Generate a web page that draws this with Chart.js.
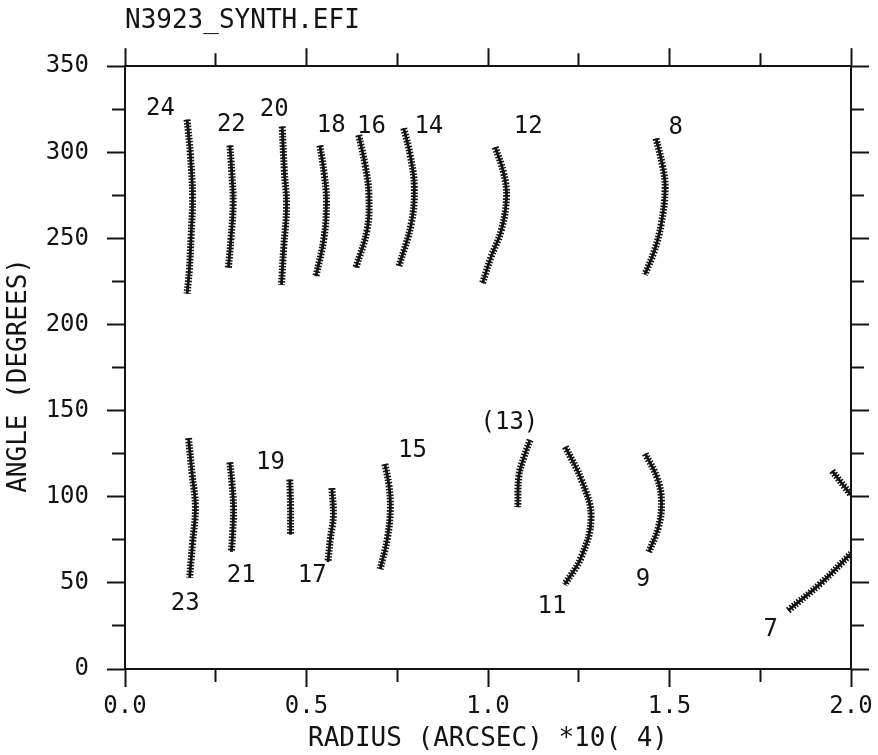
<!DOCTYPE html>
<html>
<head>
<meta charset="utf-8">
<script src="https://cdn.jsdelivr.net/npm/chart.js@4.4.0/dist/chart.umd.min.js"></script>
<style>
  html, body { margin: 0; padding: 0; background: #fff; }
  #wrap { width: 878px; height: 755px; position: relative; }
</style>
</head>
<body>
<div id="wrap"><canvas id="chart"></canvas></div>
<script>
// Each curve: [radius (arcsec x10^4), angle (deg)]
const c24 = [[0.171, 319], [0.180, 299], [0.186, 274], [0.182, 251], [0.177, 231], [0.171, 218]];
const c22 = [[0.289, 304], [0.294, 289], [0.298, 270], [0.292, 250], [0.285, 233]];
const c20 = [[0.433, 315], [0.439, 289], [0.445, 269], [0.437, 244], [0.431, 223]];
const c18 = [[0.537, 304], [0.549, 287], [0.555, 271], [0.548, 250], [0.526, 228]];
const c16 = [[0.644, 310], [0.662, 292], [0.672, 275], [0.667, 255], [0.636, 233]];
const c14 = [[0.768, 314], [0.786, 298], [0.797, 280], [0.789, 259], [0.755, 234]];
const c12 = [[1.020, 303], [1.043, 288], [1.051, 274], [1.037, 255], [1.008, 239], [0.985, 224]];
const c8  = [[1.463, 308], [1.481, 292], [1.488, 279], [1.477, 258], [1.457, 242], [1.432, 229]];
const c23 = [[0.175, 134], [0.185, 113], [0.194, 94], [0.186, 73], [0.178, 53]];
const c21 = [[0.289, 120], [0.295, 107], [0.299, 94], [0.297, 80], [0.293, 68]];
const c19 = [[0.454, 110], [0.456, 94], [0.456, 78]];
const c17 = [[0.570, 105], [0.574, 89], [0.566, 76], [0.559, 62]];
const c15 = [[0.716, 119], [0.727, 107], [0.731, 93], [0.723, 76], [0.703, 58]];
const c13 = [[1.116, 133], [1.099, 123], [1.085, 112], [1.082, 94]];
const c11 = [[1.213, 129], [1.259, 109], [1.284, 88], [1.257, 65], [1.211, 49]];
const c9  = [[1.433, 125], [1.466, 111], [1.478, 97], [1.469, 82], [1.443, 68]];
const c7  = [[1.827, 34], [1.918, 50], [2.000, 67]];
const c7b = [[1.948, 115], [2.000, 101]];

const curves = [c24, c22, c20, c18, c16, c14, c12, c8, c23, c21, c19, c17, c15, c13, c11, c9, c7, c7b];

// curve numbers written next to the tracks
const labelText = ['24', '22', '20', '18', '16', '14', '12', '8', '23', '21', '19', '17', '15', '(13)', '11', '9', '7'];
const labelR = [0.098, 0.293, 0.411, 0.568, 0.679, 0.837, 1.111, 1.517, 0.166, 0.320, 0.401, 0.516, 0.792, 1.059, 1.176, 1.427, 1.779];
const labelA = [325, 316, 324.5, 315.5, 315, 315, 315, 314, 38, 54, 120, 54, 127, 143, 36, 52, 23];

const xMin = 0, xMax = 2.0, xStep = 0.25;
const yMin = 0, yMax = 350, yStep = 25;

const INK = '#141414';
const FONT = '"DejaVu Sans Mono", "Liberation Mono", monospace';

// minor ticks are shorter; use a dash to trim them
function isMinorX(ctx) {
  const v = ctx.tick ? ctx.tick.value : 0;
  return Math.abs(v * 2 - Math.round(v * 2)) > 1e-6;
}
function isMinorY(ctx) {
  const v = ctx.tick ? ctx.tick.value : 0;
  return Math.round(v) % 50 !== 0;
}
const DASH_FROM_AXIS = [12, 100];      // bottom / right: drawn from axis outward
const DASH_TO_AXIS = [0, 5, 12, 100];   // top / left: drawn from outside toward axis

const curveLabels = {
  id: 'curveLabels',
  afterDatasetsDraw(chart) {
    const { ctx, scales: { x, y } } = chart;
    ctx.save();
    ctx.font = '24px ' + FONT;
    ctx.fillStyle = INK;
    ctx.textAlign = 'center';
    ctx.textBaseline = 'middle';
    labelText.forEach((t, i) => {
      ctx.fillText(t, x.getPixelForValue(labelR[i]), y.getPixelForValue(labelA[i]));
    });
    ctx.restore();
  }
};

// each track is drawn twice: a core line plus a thick dashed stroke for the "+" marks
const datasets = [];
curves.forEach(c => {
  const pts = c.map(p => ({ x: p[0], y: p[1] }));
  datasets.push({
    data: pts, xAxisID: 'x', yAxisID: 'y',
    borderColor: INK, borderWidth: 2.8, pointRadius: 0, tension: 0.4, fill: false
  });
  datasets.push({
    data: pts, xAxisID: 'x', yAxisID: 'y',
    borderColor: INK, borderWidth: 7, borderDash: [1.6, 1.5], pointRadius: 0, tension: 0.4, fill: false
  });
});

const tickFont = { family: FONT, size: 24, lineHeight: 1.2 };
const titleFont = { family: FONT, size: 26, lineHeight: 1.2 };

new Chart(document.getElementById('chart'), {
  type: 'line',
  data: { datasets: datasets },
  options: {
    responsive: true,
    maintainAspectRatio: false,
    animation: false,
    layout: { padding: { left: 0, right: 9, top: 0, bottom: 0 } },
    plugins: {
      legend: { display: false },
      tooltip: { enabled: false },
      title: {
        display: true,
        text: 'N3923_SYNTH.EFI',
        align: 'start',
        fullSize: false,
        color: INK,
        font: { family: FONT, size: 26, weight: 'normal', lineHeight: 1.2 },
        padding: { top: 6, bottom: 11 }
      }
    },
    scales: {
      x: {
        type: 'linear', position: 'bottom', min: xMin, max: xMax,
        afterFit: s => { s.height = 86; },
        border: { display: true, color: INK, width: 2 },
        grid: {
          drawOnChartArea: false, tickLength: 18, tickWidth: 2, tickColor: INK,
          tickBorderDash: ctx => isMinorX(ctx) ? DASH_FROM_AXIS : []
        },
        ticks: {
          stepSize: xStep, autoSkip: false, maxRotation: 0, padding: 5,
          color: INK, font: tickFont,
          callback: v => (Math.abs(v * 2 - Math.round(v * 2)) < 1e-6 ? v.toFixed(1) : '')
        },
        title: {
          display: true, text: 'RADIUS (ARCSEC) *10( 4)', color: INK,
          font: titleFont,
          padding: { top: 0, bottom: 0 }
        }
      },
      x2: {
        type: 'linear', position: 'top', min: xMin, max: xMax,
        afterFit: s => { s.height = 18; },
        border: { display: true, color: INK, width: 2 },
        grid: {
          drawOnChartArea: false, tickLength: 18, tickWidth: 2, tickColor: INK,
          tickBorderDash: ctx => isMinorX(ctx) ? DASH_TO_AXIS : []
        },
        ticks: { display: false, stepSize: xStep, autoSkip: false }
      },
      y: {
        type: 'linear', position: 'left', min: yMin, max: yMax,
        afterFit: s => { s.width = 125; },
        border: { display: true, color: INK, width: 2 },
        grid: {
          drawOnChartArea: false, tickLength: 18, tickWidth: 2, tickColor: INK,
          tickBorderDash: ctx => isMinorY(ctx) ? DASH_TO_AXIS : []
        },
        ticks: {
          stepSize: yStep, autoSkip: false, padding: 18,
          color: INK, font: tickFont,
          callback: v => (Math.round(v) % 50 === 0 ? String(v) : '')
        },
        title: {
          display: true, text: 'ANGLE (DEGREES) ', color: INK,
          font: titleFont,
          padding: { top: 4, bottom: 0 }
        }
      },
      y2: {
        type: 'linear', position: 'right', min: yMin, max: yMax,
        afterFit: s => { s.width = 18; },
        border: { display: true, color: INK, width: 2 },
        grid: {
          drawOnChartArea: false, tickLength: 18, tickWidth: 2, tickColor: INK,
          tickBorderDash: ctx => isMinorY(ctx) ? DASH_FROM_AXIS : []
        },
        ticks: { display: false, stepSize: yStep, autoSkip: false }
      }
    }
  },
  plugins: [curveLabels]
});
</script>
</body>
</html>
